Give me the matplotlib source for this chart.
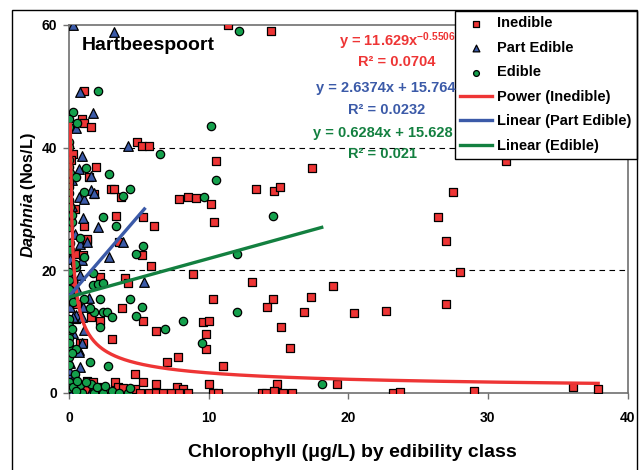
import numpy as np
import matplotlib
matplotlib.use('Agg')
import matplotlib.pyplot as plt
from matplotlib.patches import Rectangle

plt.rcParams['font.family'] = ['Liberation Sans', 'DejaVu Sans']
plt.rcParams['mathtext.fontset'] = 'custom'
plt.rcParams['mathtext.rm'] = 'Liberation Sans:bold'
plt.rcParams['mathtext.it'] = 'Liberation Sans:italic:bold'
plt.rcParams['mathtext.bf'] = 'Liberation Sans:bold'

# data
inedible_x = [11.4, 14.5, 1.1, 0.9, 1.1, 1.6, 4.9, 5.2, 5.7, 0.3, 1.9, 1.4, 3.0, 3.2, 1.8, 3.7,
              10.5, 7.9, 8.5, 9.1, 10.2, 10.4, 13.4, 14.7, 15.1, 17.4, 3.4, 6.1, 1.1, 5.3, 3.6,
              1.3, 5.2, 5.9, 2.2, 4.0, 4.2, 8.9, 13.1, 10.3, 14.6, 14.2, 17.3, 3.8, 1.6, 2.2, 5.3,
              9.6, 10.0, 16.8, 15.2, 6.2, 9.8, 3.1, 9.8, 15.8, 7.8, 7.0, 11.0, 4.7, 5.3, 3.3, 10.0,
              14.9, 3.5, 3.9, 4.7, 6.2, 7.7, 8.2, 5.1, 5.7, 6.2, 6.7, 7.3, 7.9, 8.5, 10.3, 10.7,
              13.8, 14.1, 14.7, 15.3, 16.0, 18.9, 27.5, 26.4, 27.0, 28.0, 20.4, 22.7, 27.0, 19.2,
              23.2, 23.7, 29.0, 31.3, 36.1, 37.9, 0.5, 1.0, 1.3, 0.8, 1.3, 0.6, 1.0, 1.7, 0.4, 0.6,
              1.2, 2.0, 0.15, 0.3, 0.5]
inedible_y = [60.0, 59.0, 49.2, 44.6, 44.0, 43.4, 40.9, 40.3, 40.3, 39.0, 36.9, 35.2, 33.2, 33.2,
              32.4, 31.9, 37.8, 31.6, 31.9, 31.8, 30.8, 27.9, 33.3, 32.9, 33.6, 36.7, 28.9, 27.2,
              27.2, 28.7, 24.6, 24.8, 22.5, 20.7, 18.9, 18.7, 17.9, 19.4, 18.1, 15.3, 15.3, 14.1,
              15.6, 13.9, 12.4, 11.7, 11.7, 11.6, 11.7, 13.2, 10.8, 10.1, 9.6, 8.8, 7.2, 7.3, 5.9,
              5.1, 4.4, 3.1, 1.8, 1.8, 1.4, 1.4, 1.0, 0.8, 0.6, 1.4, 1.0, 0.6, 0, 0, 0, 0, 0, 0, 0,
              0, 0, 0, 0, 0.4, 0, 0, 17.4, 32.8, 28.7, 24.8, 19.7, 13.0, 13.4, 14.5, 1.4, 0, 0.2,
              0.3, 37.8, 1.0, 0.6, 22.7, 22.5, 25.1, 8.2, 2.0, 1.0, 8.2, 1.8, 30.0, 14.5, 0.5, 1.0,
              38.0, 18.0, 12.0]

part_x = [0.3, 3.2, 0.8, 1.7, 0.5, 4.2, 0.9, 0.7, 1.6, 0.2, 0.7, 1.1, 1.6, 1.8, 0.1, 1.0, 2.1,
          3.9, 2.9, 0.0, 5.4, 0.8, 0.8, 1.3, 0.1, 0.1, 0.9, 0.3, 1.0, 0.5, 0.9, 1.1, 0.7, 0.8,
          0.1, 0.0, 1.5, 0.1, 0.3, 0.3, 0.9, 0.7, 0.0, 0.4, 1.8, 0.2, 0.4, 0.6, 0.2, 1.4, 0.3, 0.9]
part_y = [60.0, 58.9, 49.1, 45.6, 43.2, 40.2, 38.7, 36.6, 35.4, 34.7, 31.9, 31.7, 33.1, 32.6,
          29.1, 28.6, 27.1, 24.6, 22.2, 22.2, 18.1, 19.2, 24.3, 24.6, 22.3, 21.8, 21.7, 18.9,
          14.0, 12.7, 12.4, 10.3, 7.0, 4.2, 4.9, 2.9, 0.0, 14.0, 12.4, 9.8, 8.2, 6.7, 3.7, 2.9,
          1.0, 30.5, 26.0, 17.0, 16.0, 15.5, 0.5, 0.4]

edible_x = [12.2, 2.1, 0.3, 0.0, 0.6, 0.0, 10.2, 6.5, 0.0, 0.0, 0.0, 0.0, 0.1, 1.2, 0.5, 2.9,
            10.5, 0.0, 4.4, 3.9, 9.7, 14.6, 2.4, 3.4, 0.0, 0.0, 0.0, 0.1, 0.0, 0.2, 1.1, 0.8, 1.1,
            5.3, 4.8, 0.1, 0.1, 0.5, 1.7, 2.1, 12.0, 1.7, 2.4, 0.1, 1.1, 2.2, 4.4, 5.2, 12.0, 2.4,
            2.7, 1.8, 3.1, 4.8, 8.2, 2.2, 6.9, 9.5, 0.1, 0.5, 1.5, 2.8, 0.4, 0.0, 18.1, 0.8, 1.6,
            1.8, 2.4, 3.1, 3.6, 4.2, 4.4, 0.9, 0.1, 1.5, 0.0, 0.0, 0.0, 0.0, 0.0, 0.0, 0.0, 0.0,
            0.0, 0.0, 0.0, 0.3, 0.6, 1.2, 0.2, 0.3, 0.2, 0.5, 2.0, 2.6, 0.2, 0.4]
edible_y = [59.0, 49.3, 45.8, 44.7, 44.0, 43.4, 43.5, 39.0, 40.9, 40.1, 38.0, 36.8, 35.9, 36.7,
            35.2, 35.7, 34.7, 34.4, 33.2, 32.1, 31.9, 28.9, 28.7, 27.2, 33.6, 32.6, 31.5, 30.3,
            27.1, 27.9, 32.8, 25.3, 22.2, 24.0, 22.7, 24.5, 23.3, 20.5, 17.6, 17.8, 22.7, 19.6,
            17.9, 15.5, 15.3, 15.3, 15.3, 14.0, 13.2, 13.2, 13.2, 13.2, 12.4, 12.6, 11.7, 10.8,
            10.4, 8.2, 7.3, 7.2, 5.1, 4.4, 3.1, 5.9, 1.4, 1.3, 1.4, 0, 0, 0.3, 0, 0, 0.8, 0, 1.3,
            13.9, 19.8, 18.5, 17.0, 12.0, 11.0, 10.0, 9.0, 8.2, 4.5, 1.8, 0.8, 1.0, 2.0, 1.8, 10.5,
            14.8, 6.5, 0.3, 1.0, 1.2, 29.0, 21.0]

# trend lines as given in the chart
pow_a, pow_b, pow_r2 = 11.629, -0.5506, 0.0704
part_m, part_c, part_r2 = 2.6374, 15.764, 0.0232
ed_m, ed_c, ed_r2 = 0.6284, 15.628, 0.021

red = '#EE3535'
blue = '#3B5AA8'
green = '#14A04C'
dgreen = '#138040'

fig = plt.figure(figsize=(6.44, 4.70), dpi=100)
ax = fig.add_axes([69 / 644, 77 / 470, 558.5 / 644, 368 / 470])

# outer chart frame (bottom runs off the image)
fig.patches.append(Rectangle((12.5 / 644, -0.05), 624 / 644, 1.05 - 10 / 470,
                             transform=fig.transFigure, fill=False, ec='black', lw=1.0))

ax.axhline(20, color='black', lw=0.8, ls=(0, (5, 4)), zorder=1)
ax.axhline(40, color='black', lw=0.8, ls=(0, (5, 4)), zorder=1)

ax.scatter(inedible_x, inedible_y, marker='s', s=36, c=red, edgecolors='black',
           linewidths=0.9, zorder=3, label='Inedible')
ax.scatter(part_x, part_y, marker='^', s=48, c=blue, edgecolors='black',
           linewidths=0.9, zorder=3, label='Part Edible')
ax.scatter(edible_x, edible_y, marker='o', s=36, c=green, edgecolors='black',
           linewidths=0.9, zorder=3, label='Edible')

xp = np.linspace(min(inedible_x) * 0.6, max(inedible_x), 400)
ax.plot(xp, pow_a * xp ** pow_b, color=red, lw=2.4, zorder=4, label='Power (Inedible)')
xb = np.array([0, max(part_x)])
ax.plot(xb, part_m * xb + part_c, color=blue, lw=2.4, zorder=4, label='Linear (Part Edible)')
xg = np.array([0, max(edible_x)])
ax.plot(xg, ed_m * xg + ed_c, color=dgreen, lw=2.4, zorder=4, label='Linear (Edible)')

ax.set_xlim(0, 40)
ax.set_ylim(0, 60)
ax.set_xticks([0, 10, 20, 30, 40])
ax.set_yticks([0, 20, 40, 60])
for s in ax.spines.values():
    s.set_color('#707070')
    s.set_linewidth(1.2)
ax.tick_params(axis='both', direction='out', length=4, width=1.0, color='#707070',
               labelsize=10)
ax.tick_params(axis='x', pad=9)
ax.tick_params(axis='y', pad=4.5)
for lab in ax.get_xticklabels() + ax.get_yticklabels():
    lab.set_fontweight('bold')

fig.text(82 / 644, 1 - 45 / 470, 'Hartbeespoort', fontsize=14, fontweight='bold',
         ha='left', va='center')

fig.text(397 / 644, 1 - 41 / 470, r'y = 11.629x$^{\mathbf{-0.5506}}$', color=red,
         fontsize=10.5, fontweight='bold', ha='center', va='center')
fig.text(397 / 644, 1 - 62 / 470, 'R² = %.4f' % pow_r2, color=red,
         fontsize=10.5, fontweight='bold', ha='center', va='center')
fig.text(386 / 644, 1 - 88 / 470, 'y = %.4fx + %.3f' % (part_m, part_c), color=blue,
         fontsize=10.5, fontweight='bold', ha='center', va='center')
fig.text(387 / 644, 1 - 110 / 470, 'R² = %.4f' % part_r2, color=blue,
         fontsize=10.5, fontweight='bold', ha='center', va='center')
fig.text(383 / 644, 1 - 133 / 470, 'y = %.4fx + %.3f' % (ed_m, ed_c), color=dgreen,
         fontsize=10.5, fontweight='bold', ha='center', va='center')
fig.text(383 / 644, 1 - 154 / 470, 'R² = %.3f' % ed_r2, color=dgreen,
         fontsize=10.5, fontweight='bold', ha='center', va='center')

fig.text(352 / 644, 1 - 457 / 470, 'Chlorophyll (μg/L) by edibility class',
         fontsize=14, fontweight='bold', ha='center', va='baseline')
fig.text(28 / 644, 1 - 195 / 470, r'$\mathit{Daphnia}$ (Nos/L)', rotation=90,
         fontsize=11.7, fontweight='bold', ha='center', va='center')

leg = ax.legend(loc='upper right', bbox_to_anchor=(637 / 644, 1 - 10.5 / 470),
                bbox_transform=fig.transFigure, borderaxespad=0, fancybox=False,
                framealpha=1, edgecolor='black', prop={'weight': 'bold', 'size': 10.5},
                labelspacing=0.72, handlelength=2.2, handletextpad=0.3, borderpad=0.4,
                markerscale=0.7, scatterpoints=1)
leg.get_frame().set_linewidth(1.0)
leg.set_zorder(10)

fig.savefig('out.png', dpi=100)
